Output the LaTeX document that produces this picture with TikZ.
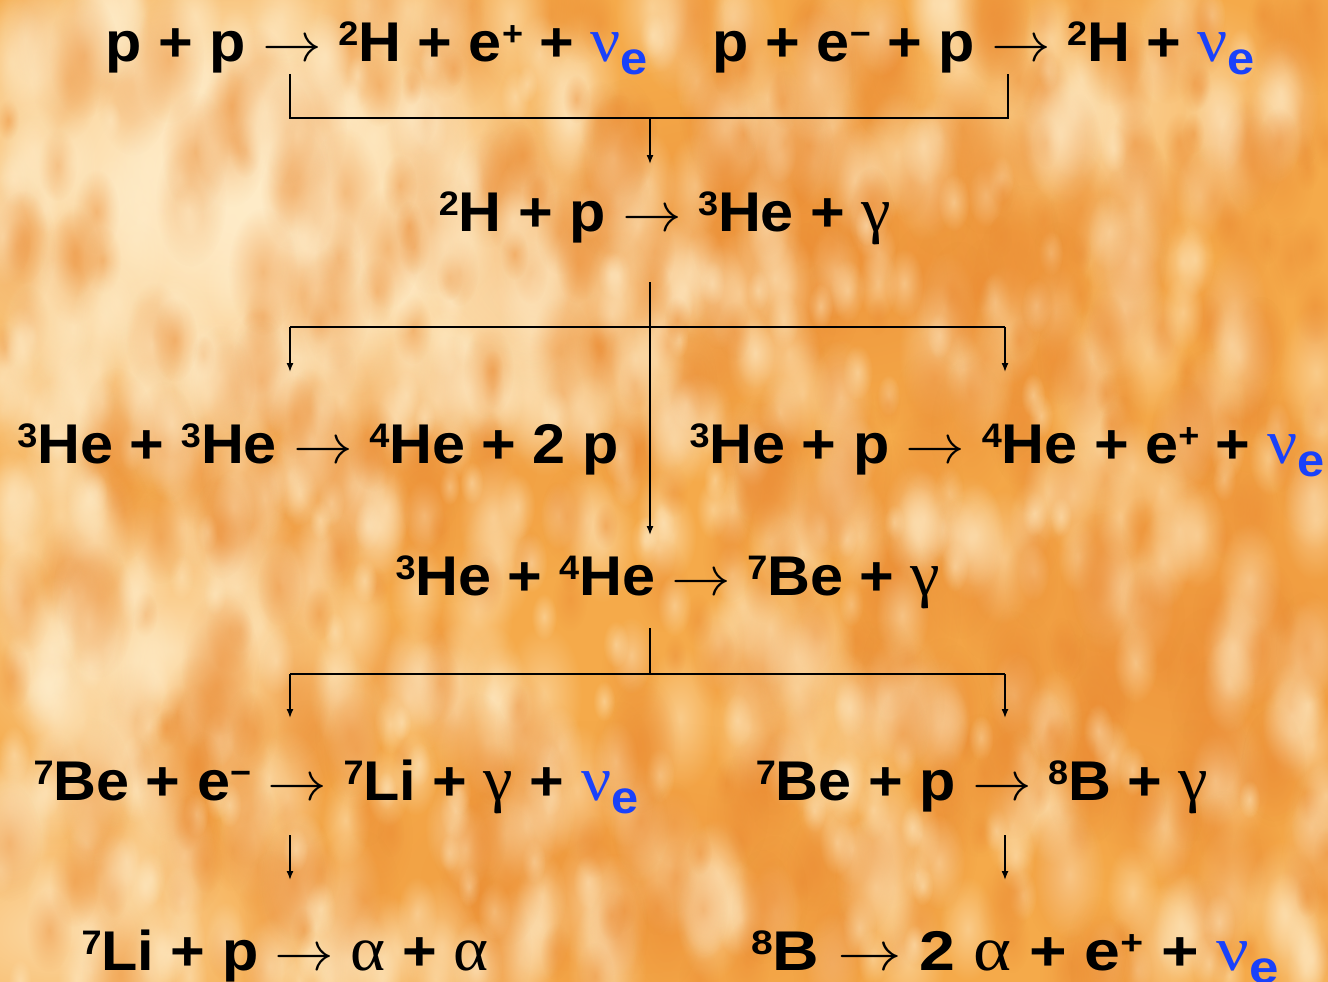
\documentclass[tikz,border=0pt]{standalone}
\usepackage{fontspec}
\usepackage{unicode-math}
\setmainfont{Liberation Sans}
\newfontfamily\grkfont{Liberation Serif}
\usetikzlibrary{arrows.meta,fadings}
\tikzfading[name=softblob, inner color=transparent!0, outer color=transparent!100]
\definecolor{bgbase}{RGB}{245,170,74}
\definecolor{lightpatch}{RGB}{255,236,200}
\definecolor{darkpatch}{RGB}{236,142,54}
\definecolor{nublue}{RGB}{25,65,250}
\newcommand\isoup[1]{\raisebox{16pt}{\fontsize{34}{34}\selectfont #1}}
\newcommand\grk[1]{{\fontsize{63}{63}\selectfont\grkfont\mdseries #1}}
\newcommand\reacts{\ensuremath{\rightarrow}}
\newcommand\nue{{\color{nublue}\grk{ν}\raisebox{-13pt}{\fontsize{46}{46}\selectfont e}}}
\newcommand\wide[1]{\scalebox{1.06}[1]{#1}}
\newcommand\wider[1]{\scalebox{1.15}[1]{#1}}
\tikzset{
  eq/.style={anchor=base, inner sep=0pt, font=\fontsize{56}{60}\selectfont\bfseries},
  conn/.style={line width=1.4pt},
  arr/.style={line width=1.4pt,-{Latex[length=9pt,width=7pt]}},
  blob/.style={path fading=softblob}
}
\begin{document}
\begin{tikzpicture}[x=1pt,y=-1pt]
\useasboundingbox (0,0) rectangle (1328,982);
% background
\fill[bgbase] (0,0) rectangle (1328,982);
\begin{scope}
\clip (0,0) rectangle (1328,982);
\fill[lightpatch,blob,opacity=1] (260,210) ellipse (420 and 300);
\fill[lightpatch,blob,opacity=1] (220,170) ellipse (320 and 220);
\fill[lightpatch,blob,opacity=0.8] (520,300) ellipse (260 and 170);
\fill[lightpatch,blob,opacity=0.8] (170,650) ellipse (240 and 170);
\fill[lightpatch,blob,opacity=0.7] (60,930) ellipse (260 and 150);
\fill[lightpatch,blob,opacity=0.6] (1100,110) ellipse (240 and 130);
\fill[darkpatch,blob,opacity=0.8] (790,250) ellipse (380 and 190);
\fill[darkpatch,blob,opacity=0.7] (1190,640) ellipse (320 and 250);
\fill[darkpatch,blob,opacity=0.6] (620,880) ellipse (340 and 160);
\fill[darkpatch,blob,opacity=0.6] (360,470) ellipse (300 and 140);
\pgfmathsetseed{42}
\foreach \i in {1,...,1300}{
  \pgfmathsetmacro{\bx}{rnd*1328}
  \pgfmathsetmacro{\by}{rnd*982}
  \pgfmathsetmacro{\br}{18+rnd*55}
  \pgfmathsetmacro{\bc}{rnd - 0.35*(1 - \bx/1328) + 0.15}
  \ifdim\bc pt<0.5pt\def\bcol{lightpatch}\else\def\bcol{darkpatch}\fi
  \fill[\bcol,blob,opacity=0.5] (\bx,\by) ellipse ({\br*0.55} and \br);
}
\end{scope}
% equations
\node[eq] (r1a) at (377,62) {\wide{p + p \reacts{} \isoup{2}H + e\isoup{+} + \nue}};
\node[eq] (r1b) at (984,62) {\wide{p + e\isoup{−} + p \reacts{} \isoup{2}H + \nue}};
\node[eq] (r2) at (665,231) {\wide{\isoup{2}H + p \reacts{} \isoup{3}He + \grk{γ}}};
\node[eq] (r3a) at (318,463) {\wide{\isoup{3}He + \isoup{3}He \reacts{} \isoup{4}He + 2 p}};
\node[eq] (r3b) at (1007,463) {\wide{\isoup{3}He + p \reacts{} \isoup{4}He + e\isoup{+} + \nue}};
\node[eq] (r4) at (668,595) {\wide{\isoup{3}He + \isoup{4}He \reacts{} \isoup{7}Be + \grk{γ}}};
\node[eq] (r5a) at (336,800) {\wide{\isoup{7}Be + e\isoup{−} \reacts{} \isoup{7}Li + \grk{γ} + \nue}};
\node[eq] (r5b) at (982,800) {\wide{\isoup{7}Be + p \reacts{} \isoup{8}B + \grk{γ}}};
\node[eq] (r6a) at (285,970) {\wide{\isoup{7}Li + p \reacts{} \grk{α} + \grk{α}}};
\node[eq] (r6b) at (1015,970) {\wider{\isoup{8}B \reacts{} 2 \grk{α} + e\isoup{+} + \nue}};
% connector points
\coordinate (t1) at (290,74);
\coordinate (t2) at (1008,74);
\coordinate (tj) at (650,118);
\coordinate (te) at (650,164);
\coordinate (ms) at (650,282);
\coordinate (me) at (650,535);
\coordinate (mL) at (290,327);
\coordinate (mR) at (1005,327);
\coordinate (mLe) at (290,372);
\coordinate (mRe) at (1005,372);
\coordinate (bs) at (650,628);
\coordinate (bj) at (650,674);
\coordinate (bL) at (290,674);
\coordinate (bR) at (1005,674);
\coordinate (bLe) at (290,718);
\coordinate (bRe) at (1005,718);
\coordinate (lLs) at (290,835);
\coordinate (lLe) at (290,880);
\coordinate (lRs) at (1005,835);
\coordinate (lRe) at (1005,880);
% connectors
\draw[conn] (t1) |- (tj) -| (t2);
\draw[arr] (tj) -- (te);
\draw[arr] (ms) -- (me);
\draw[conn] (mL) -- (mR);
\draw[arr] (mL) -- (mLe);
\draw[arr] (mR) -- (mRe);
\draw[conn] (bs) -- (bj);
\draw[conn] (bL) -- (bR);
\draw[arr] (bL) -- (bLe);
\draw[arr] (bR) -- (bRe);
\draw[arr] (lLs) -- (lLe);
\draw[arr] (lRs) -- (lRe);
\end{tikzpicture}
\end{document}
